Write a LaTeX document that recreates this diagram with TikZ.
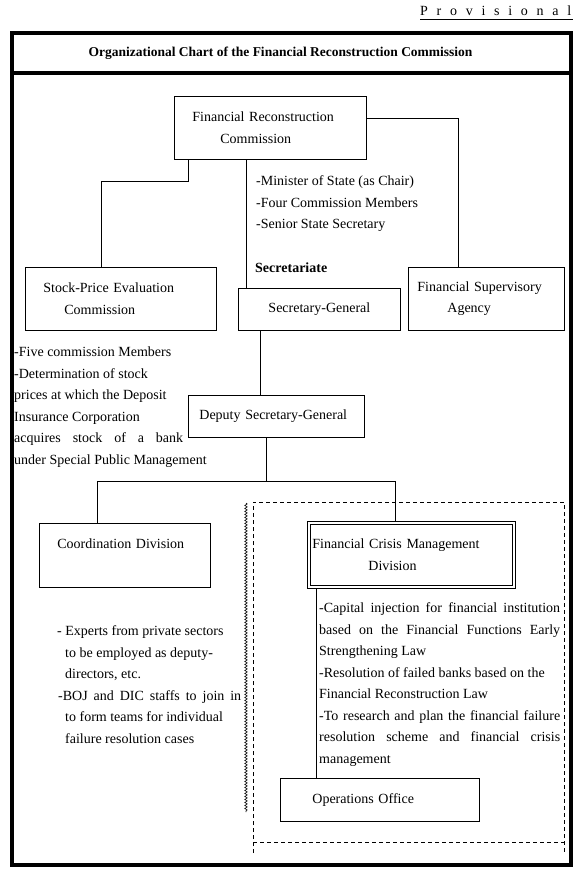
\documentclass[tikz,border=0pt]{standalone}
\usepackage{fontspec}
\setmainfont{Liberation Serif}
\usetikzlibrary{decorations.pathmorphing}
\newcommand\bodyfont{\fontsize{14}{21.5}\selectfont}
\begin{document}
\begin{tikzpicture}[x=1pt,y=-1pt,
  box/.style={draw, line width=0.8pt, font=\bodyfont, inner ysep=0pt, anchor=north west, align=left},
  cbox/.style={draw, line width=0.8pt, font=\bodyfont, inner sep=0pt, anchor=north west, align=center},
  note/.style={font=\bodyfont, inner sep=0pt, anchor=base west, align=left},
  conn/.style={line width=0.8pt},
  frame/.style={line width=4pt},
  dashbox/.style={line width=0.8pt, dash pattern=on 4pt off 3pt},
  wavy/.style={line width=0.6pt, decorate, decoration={snake, amplitude=1.2pt, segment length=3pt}}
]
\useasboundingbox (0,0) rectangle (584,875);

% header
\node[font=\fontsize{14}{16}\selectfont, inner sep=0pt, anchor=base west] (prov) at (420,16)
  {\makebox[151pt]{P\hfill r\hfill o\hfill v\hfill i\hfill s\hfill i\hfill o\hfill n\hfill a\hfill l}};
\draw[line width=0.8pt] ([yshift=-3pt]prov.base west) -- ([yshift=-3pt,xshift=2pt]prov.base east);

\draw[frame] (11.5,33.5) rectangle (571,864.5);
\draw[frame] (11.5,73) -- (571,73);
\node[font=\fontsize{13.5}{16}\selectfont\bfseries, inner sep=0pt] (title) at (280.5,53)
  {Organizational Chart of the Financial Reconstruction Commission};

% boxes
\node[box, minimum width=192, minimum height=63, inner xsep=18, text width=156] (frc) at (174,96)
  {Financial Reconstruction\\\hspace*{28pt}Commission};
\node[box, minimum width=191, minimum height=63, inner xsep=18, text width=155] (spe) at (25,267)
  {Stock-Price Evaluation\\\hspace*{21pt}Commission};
\node[cbox, minimum width=162, minimum height=42] (sg) at (238,288) {Secretary-General};
\node[box, minimum width=156, minimum height=63, inner xsep=9, text width=138] (fsa) at (408,267)
  {Financial Supervisory\\\hspace*{30pt}Agency};
\node[box, minimum width=176, minimum height=42, inner xsep=11, text width=154] (dsg) at (188,395)
  {Deputy Secretary-General};
\node[box, minimum width=171, minimum height=64, inner xsep=18, text width=135] (cd) at (39,523)
  {\strut Coordination Division\\\strut};
\node[box, minimum width=208, minimum height=67, inner xsep=5, text width=198] (fcmd) at (307,521)
  {Financial Crisis Management\\\hspace*{56pt}Division};
\draw[line width=0.8pt] ([shift={(3,3)}]fcmd.north west) rectangle ([shift={(-3,-3)}]fcmd.south east);
\node[box, minimum width=199, minimum height=43, inner xsep=32, text width=135] (ops) at (280,778)
  {Operations Office};

% connectors
\coordinate (j1) at (188,181);
\coordinate (j2) at (101,181);
\draw[conn] (frc.south -| j1) -- (j1) -- (j2) -- (j2 |- spe.north);
\coordinate (j3) at (246,200);
\draw[conn] (frc.south -| j3) -- (j3 |- sg.north);
\coordinate (j4) at (458,118);
\draw[conn] (frc.east |- j4) -- (j4) -- (j4 |- fsa.north);
\coordinate (j5) at (260,360);
\draw[conn] (sg.south -| j5) -- (dsg.north -| j5);
\coordinate (j6) at (266,481);
\coordinate (j7) at (97,481);
\coordinate (j8) at (395,481);
\draw[conn] (dsg.south -| j6) -- (j6);
\draw[conn] (j7 |- cd.north) -- (j7) -- (j8) -- (j8 |- fcmd.north);
\coordinate (j9) at (316,700);
\draw[conn] (fcmd.south -| j9) -- (ops.north -| j9);

% notes (anchored at the baseline of their last line)
\node[note] (frcnote) at (256,228.5)
  {-Minister of State (as Chair)\\-Four Commission Members\\-Senior State Secretary};
\node[font=\bodyfont\bfseries, inner sep=0pt, anchor=base west] (secr) at (255,272) {Secretariate};
\node[note] (spenote) at (14,464)
  {-Five commission Members\\-Determination of stock\\prices at which the Deposit\\Insurance Corporation\\
   \makebox[169pt][s]{acquires stock of a bank}\\under Special Public Management};
\node[note] (cdnote) at (57,743)
  {- Experts from private sectors\\\hspace*{8pt}to be employed as deputy-\\\hspace*{8pt}directors, etc.\\
   \hspace*{1pt}\makebox[183pt][s]{-BOJ and DIC staffs to join in}\\\hspace*{8pt}to form teams for individual\\
   \hspace*{8pt}failure resolution cases};
\node[note] (fcmdnote) at (319,763)
  {\makebox[241pt][s]{-Capital injection for financial institution}\\
   \makebox[241pt][s]{based on the Financial Functions Early}\\
   Strengthening Law\\
   -Resolution of failed banks based on the\\
   Financial Reconstruction Law\\
   \makebox[241pt][s]{-To research and plan the financial failure}\\
   \makebox[241pt][s]{resolution scheme and financial crisis}\\
   management};

% wavy separator and dashed group
\coordinate (w1) at (246,503);
\coordinate (w2) at (246,812);
\draw[wavy] (w1) -- (w2);
\coordinate (d1) at (253,853);
\coordinate (d2) at (253,502);
\coordinate (d3) at (564,502);
\coordinate (d4) at (564,853);
\draw[dashbox] (d1) -- (d2) -- (d3) -- (d4);
\draw[dashbox] (d1 |- 0,842) -- (d4 |- 0,842);
\end{tikzpicture}
\end{document}
